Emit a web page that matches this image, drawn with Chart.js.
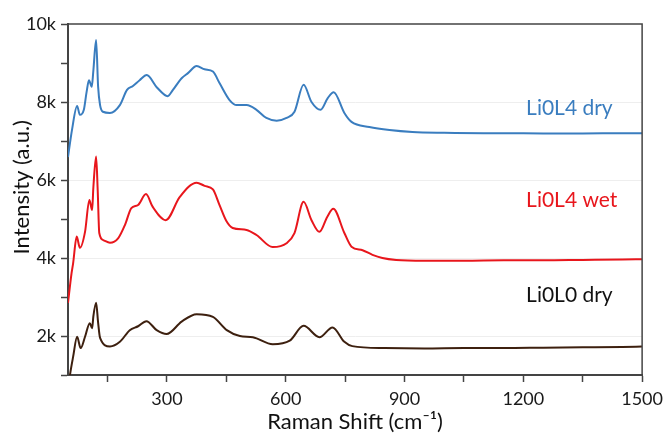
<!DOCTYPE html>
<html><head><meta charset="utf-8">
<script src="https://cdn.jsdelivr.net/npm/chart.js@4/dist/chart.umd.min.js"></script>
<style>html,body{margin:0;padding:0;background:#fff}#wrap{width:669px;height:434px}</style>
</head><body><div id="wrap"><canvas id="c" width="669" height="434"></canvas></div>
<script>
const dryL4X = [50,60,73,80,90,97,103,110,114,121,126,131,138,156,181,199,214,231,249,274,302,315,337,353,375,395,416,433,458,476,501,526,551,577,602,622,645,665,688,706,721,748,766,811,862,920,1000,1100,1200,1300,1400,1500];
const dryL4Y = [6590,7280,7900,7670,7800,8260,8560,8390,8800,9590,8400,7920,7750,7720,7920,8310,8410,8560,8690,8380,8150,8310,8610,8740,8920,8840,8780,8480,8050,7920,7920,7800,7590,7520,7590,7750,8440,8000,7800,8100,8250,7720,7490,7360,7280,7230,7210,7200,7200,7190,7200,7200];
const wetL4X = [50,59,63,72,80,93,104,111,114,121,125,129,139,156,177,194,210,227,247,264,297,332,375,395,416,433,450,466,501,526,567,602,622,645,665,685,705,720,748,766,794,819,844,879,950,1050,1150,1250,1350,1450,1500];
const wetL4Y = [2850,3610,3870,4550,4260,4670,5490,5230,5800,6600,5740,4640,4460,4390,4510,4850,5280,5360,5640,5310,4970,5560,5930,5850,5760,5350,4950,4770,4720,4590,4280,4380,4640,5440,4970,4670,5060,5260,4640,4290,4200,4080,4000,3950,3930,3930,3940,3940,3950,3960,3970];
const dryL0X = [50,55,63,73,82,93,105,111,114,121,126,131,156,181,206,227,248,274,299,337,375,416,451,484,517,567,610,645,685,718,748,768,850,950,1050,1150,1250,1350,1450,1500];
const dryL0Y = [600,1000,1470,1980,1690,1980,2330,2200,2500,2850,2350,1950,1730,1850,2150,2250,2380,2150,2050,2370,2560,2490,2150,2000,1970,1790,1880,2260,1970,2220,1850,1740,1690,1680,1690,1690,1700,1710,1720,1730];
const seriesNames = ['Li0L4 dry','Li0L4 wet','Li0L0 dry'];
const seriesColors = ['#3a7dbf','#e8161c','#3d200f'];
const labelX = [1207,1207,1207];
const labelY = [7850,5490,3050];
const xTicks = [150,300,450,600,750,900,1050,1200,1350,1500];
const xLabeled = [300,600,900,1200,1500];
const yTicks = [1000,2000,3000,4000,5000,6000,7000,8000,9000,10000];
const yLabeled = {2000:'2k',4000:'4k',6000:'6k',8000:'8k',10000:'10k'};
const xTitle = 'Raman Shift (cm⁻¹)';
const yTitle = 'Intensity (a.u.)';

const pts = (xs, ys) => xs.map((x, i) => ({x, y: ys[i]}));
const FONT = 'Lato, "Open Sans", sans-serif';

const labelPlugin = {
  id: 'labels',
  afterDatasetsDraw(chart) {
    const {ctx, scales, chartArea: a} = chart;
    ctx.save();
    ctx.font = '21px ' + FONT;
    ctx.textBaseline = 'middle';
    ctx.textAlign = 'left';
    seriesNames.forEach((n, i) => {
      ctx.fillStyle = i === 2 ? '#111' : seriesColors[i];
      ctx.fillText(n, scales.x.getPixelForValue(labelX[i]), scales.y.getPixelForValue(labelY[i]));
    });
    // y-axis title
    ctx.translate(22, a.top + (a.bottom - a.top) * 0.465);
    ctx.rotate(-Math.PI / 2);
    ctx.textAlign = 'center';
    ctx.font = '22px ' + FONT;
    ctx.fillStyle = '#111';
    ctx.fillText(yTitle, 0, 0);
    ctx.restore();
  }
};
const framePlugin = {
  id: 'frame',
  afterDraw(chart) {
    const {ctx, chartArea: a} = chart;
    ctx.save();
    ctx.strokeStyle = '#444';
    ctx.lineWidth = 1.5;
    ctx.beginPath();
    ctx.moveTo(a.left, a.top); ctx.lineTo(a.right, a.top); ctx.lineTo(a.right, a.bottom);
    ctx.stroke();
    ctx.restore();
  }
};

new Chart(document.getElementById('c'), {
  type: 'line',
  data: {
    datasets: [
      {label: seriesNames[0], data: pts(dryL4X, dryL4Y), borderColor: seriesColors[0]},
      {label: seriesNames[1], data: pts(wetL4X, wetL4Y), borderColor: seriesColors[1]},
      {label: seriesNames[2], data: pts(dryL0X, dryL0Y), borderColor: seriesColors[2]}
    ].map(d => Object.assign(d, {borderWidth: 2, pointRadius: 0, fill: false, cubicInterpolationMode: 'monotone'}))
  },
  options: {
    responsive: false, animation: false,
    layout: {padding: {left: 0, right: 26, top: 24, bottom: 0}},
    plugins: {legend: {display: false}, tooltip: {enabled: false}},
    scales: {
      x: {
        type: 'linear', min: 50, max: 1500,
        afterBuildTicks: s => { s.ticks = xTicks.map(v => ({value: v})); },
        afterFit: s => { s.height = 59; },
        border: {color: '#444', width: 2},
        grid: {drawOnChartArea: false, drawTicks: true, tickLength: 7, tickColor: '#444', tickWidth: 1.5},
        ticks: {color: '#1a1a1a', font: {size: 18, family: FONT}, padding: 6, maxRotation: 0, autoSkip: false,
          callback: v => xLabeled.includes(v) ? String(v) : ''},
        title: {display: true, text: xTitle, color: '#111', font: {size: 22, family: FONT, lineHeight: 1}, padding: {top: 0, bottom: 1}}
      },
      y: {
        min: 1000, max: 10000,
        afterBuildTicks: s => { s.ticks = yTicks.map(v => ({value: v})); },
        afterFit: s => { s.width = 68; },
        border: {color: '#444', width: 2},
        grid: {color: c => yLabeled[c.tick && c.tick.value] && c.tick.value !== 10000 ? '#eeeeee' : 'rgba(0,0,0,0)', lineWidth: 1,
          tickLength: 7, tickColor: '#444', tickWidth: 1.5},
        ticks: {color: '#1a1a1a', font: {size: 18, family: FONT}, padding: 5, autoSkip: false,
          callback: v => yLabeled[v] || ''},
        title: {display: false}
      }
    }
  },
  plugins: [labelPlugin, framePlugin]
});
</script></body></html>
